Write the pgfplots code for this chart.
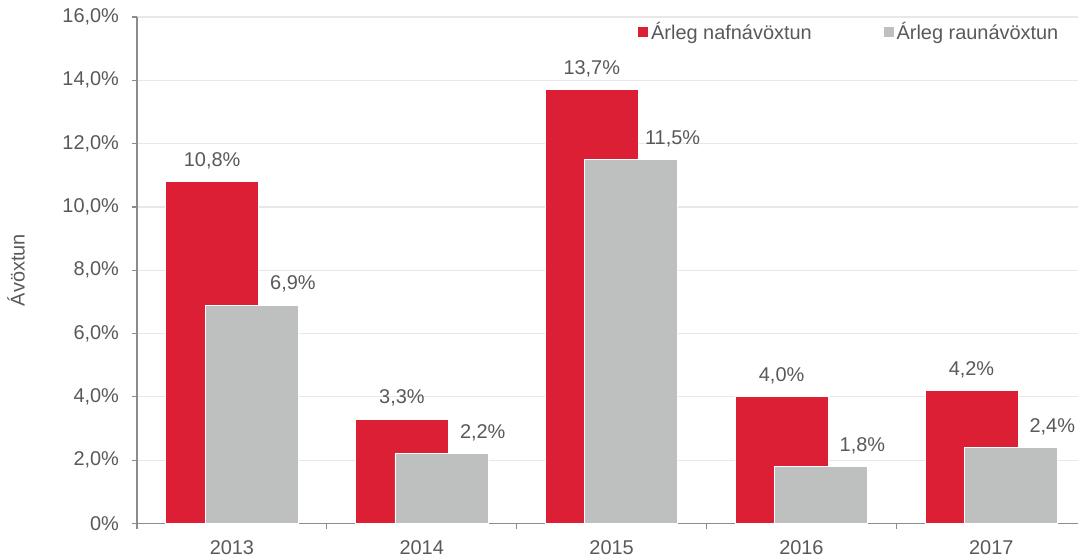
\documentclass[border=0pt]{standalone}
\usepackage{pgfplots}
\pgfplotsset{compat=1.18}
\usepackage{fontspec}
\setmainfont{Liberation Sans}
\definecolor{barred}{HTML}{DC1F35}
\definecolor{bargrey}{HTML}{BEC0BF}
\definecolor{txt}{HTML}{595959}
\definecolor{gridc}{HTML}{E8E8E8}
\definecolor{axc}{HTML}{8C8C8C}
\begin{document}
\begin{tikzpicture}
\path[use as bounding box] (-68.5bp,-17.75bp) rectangle (470.5bp,261.75bp);
\begin{axis}[
  at={(0,0)}, anchor=south west,
  scale only axis, width=470.5bp, height=253.25bp,
  xmin=-0.5, xmax=4.457, ymin=0, ymax=16,
  axis lines=left, axis line style={-, axc, line width=0.6bp},
  /pgf/number format/assume math mode=true,
  font=\fontsize{10}{12}\selectfont,
  ytick={0,2,...,16},
  yticklabels={0\%,{2,0\%},{4,0\%},{6,0\%},{8,0\%},{10,0\%},{12,0\%},{14,0\%},{16,0\%}},
  ymajorgrids, grid style={gridc, line width=0.6bp},
  tick align=outside, major tick length=2.5bp, minor tick length=2.5bp,
  tick style={axc, line width=0.6bp},
  xtick={0,1,2,3,4},
  xticklabels={2013,2014,2015,2016,2017},
  major x tick style={draw=none},
  minor xtick={-0.5,0.5,1.5,2.5,3.5},
  yticklabel style={xshift=-3bp, text=txt},
  xticklabel style={yshift=-2.6bp, text=txt},
  ylabel={Ávöxtun},
  ylabel style={at={(rel axis cs:-0.1286,0.5)}, anchor=center, text=txt},
  legend columns=2,
  legend style={at={(rel axis cs:0.5324,0.9704)}, anchor=west, draw=none, fill=none,
    inner sep=0pt, text=txt, font=\fontsize{10}{12}\selectfont,
    nodes={inner sep=1.5bp},
    /tikz/every even column/.append style={column sep=34.5bp}},
  nodes near coords={\pgfmathprintnumber[use comma,fixed,fixed zerofill,precision=1]{\pgfplotspointmeta}\%},
  nodes near coords style={text=txt, font=\fontsize{10}{12}\selectfont, yshift=2.8bp},
]
\addplot[ybar, bar width=0.49, bar shift=-0.104, fill=barred, draw=white, line width=0.4bp,
  every node near coord/.append style={xshift=-9.9bp},
  legend image code/.code={\fill[barred] (0bp,-2.25bp) rectangle (4.5bp,2.25bp);}]
  coordinates {(0,10.8) (1,3.3) (2,13.7) (3,4.0) (4,4.2)};
\addlegendentry{Árleg nafnávöxtun}
\addplot[ybar, bar width=0.49, bar shift=0.104, fill=bargrey, draw=white, line width=0.4bp,
  every node near coord/.append style={xshift=30.5bp},
  legend image code/.code={\fill[bargrey] (0bp,-2.25bp) rectangle (4.5bp,2.25bp);}]
  coordinates {(0,6.9) (1,2.2) (2,11.5) (3,1.8) (4,2.4)};
\addlegendentry{Árleg raunávöxtun}
\end{axis}
\end{tikzpicture}
\end{document}
